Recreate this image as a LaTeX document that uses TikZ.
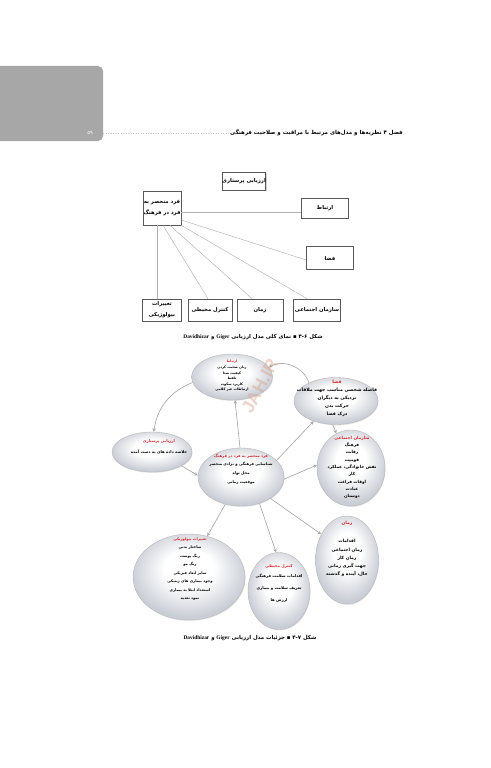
\documentclass[tikz,border=0pt]{standalone}
\usepackage{fontspec}
\usetikzlibrary{shapes.geometric,shadows}
\TeXXeTstate=1
\newfontfamily\farsi[Script=Arabic]{DejaVu Sans}
\newfontfamily\latinbf{Liberation Serif}
\newfontfamily\stampfont{Liberation Sans}
\newcommand{\fa}[1]{{\farsi\beginR #1\endR}}
\newcommand{\redhd}[1]{\textcolor{titlered}{\fa{#1}}}
\definecolor{tabgray}{HTML}{A7A7A7}
\definecolor{linkgray}{HTML}{B2B2B2}
\definecolor{arrgray}{HTML}{A3A3A3}
\definecolor{titlered}{HTML}{D9262E}
\definecolor{bubblelow}{HTML}{C9CDD5}
\definecolor{stamp}{HTML}{D8A48C}
\pgfdeclareradialshading{bubbleshade}{\pgfpoint{0bp}{6bp}}{color(0bp)=(white); color(11bp)=(white); color(26bp)=(bubblelow); color(50bp)=(bubblelow)}

\begin{document}
\begin{tikzpicture}[x=1pt, y=-1pt]
    % Define styles
    \tikzset{
        tab/.style = {rectangle, rounded corners=5pt, fill=tabgray, inner sep=0pt},
        box/.style = {rectangle, draw=black!65, line width=0.7pt, fill=white, inner sep=0pt, align=center,
                      font=\bfseries\fontsize{5.3}{11}\selectfont,
                      drop shadow={shadow xshift=0.7pt, shadow yshift=-0.7pt, opacity=0.35}},
        link/.style = {draw=linkgray, line width=0.45pt},
        bubble/.style = {ellipse, draw=black!28, line width=0.4pt, inner sep=0pt, shading=bubbleshade,
                         drop shadow={shadow xshift=0.6pt, shadow yshift=-0.9pt, opacity=0.2}},
        btext/.style = {align=center, inner sep=0pt},
        arr/.style = {draw=arrgray, line width=0.6pt, ->, >=stealth},
        caption/.style = {inner sep=0pt, font=\bfseries\fontsize{5.4}{6}\selectfont},
    }

    \fill[white] (0,0) rectangle (490,768);
    \useasboundingbox (0,0) rectangle (490,768);

    % Page header
    \node[tab, minimum width=110pt, minimum height=75pt] (tab) at (48,103.5) {};
    \node[inner sep=0pt, text=white, font=\fontsize{5}{6}\selectfont] (pageNo) at (90,133) {\farsi ۵۹};
    \node[inner sep=0pt, anchor=east, font=\bfseries\fontsize{5.5}{6}\selectfont] (head) at (403,133)
        {\fa{فصل ۴ نظریه‌ها و مدل‌های مرتبط با مراقبت و صلاحیت فرهنگی}};
    \draw[gray!45, dotted, line width=0.5pt] (tab.east |- head) -- (head.west);

    % Figure 4-6: boxes
    \node[box, minimum width=42pt, minimum height=18pt] (tNurse) at (244,181) {\fa{ارزیابی پرستاری}};
    \node[box, minimum width=38pt, minimum height=34pt] (tFard) at (162,208) {\fa{فرد منحصر به}\\ \fa{فرد در فرهنگ}};
    \node[box, minimum width=47pt, minimum height=20pt] (tErtebat) at (325,208) {\fa{ارتباط}};
    \node[box, minimum width=47pt, minimum height=23pt] (tFazaa) at (330,258) {\fa{فضا}};
    \node[box, minimum width=39pt, minimum height=22pt] (tTagh) at (162,310) {\fa{تغییرات}\\ \fa{بیولوژیکی}};
    \node[box, minimum width=44pt, minimum height=22pt] (tKont) at (210,310) {\fa{کنترل محیطی}};
    \node[box, minimum width=46pt, minimum height=22pt] (tZaman) at (260,310) {\fa{زمان}};
    \node[box, minimum width=47pt, minimum height=22pt] (tSaz) at (317,310) {\fa{سازمان اجتماعی}};

    % Figure 4-6: links
    \draw[link] ([yshift=-4pt]tFard.east) -- ([yshift=-4pt]tErtebat.west);
    \draw[link] ([yshift=-12pt]tFard.east) -- ([yshift=-2pt]tFazaa.west);
    \draw[link] (tFard.south east) -- ([xshift=-10pt]tSaz.north);
    \draw[link] ([xshift=8pt]tFard.south) -- ([xshift=-8pt]tZaman.north);
    \draw[link] ([xshift=1pt]tFard.south) -- ([xshift=-2pt]tKont.north);
    \draw[link] ([xshift=-5pt]tFard.south) -- ([xshift=-5pt]tTagh.north);

    \node[caption] (capA) at (253,337)
        {\fa{شکل \beginL۴-۶\endL{} ▪ نمای کلی مدل ارزیابی \beginL{\latinbf Giger}\endL{} و \beginL{\latinbf Davidhizar}\endL}};

    % Figure 4-7: bubbles
    \node[bubble, minimum width=81pt, minimum height=46pt] (bErtebat) at (232,377) {};
    \node[bubble, minimum width=84pt, minimum height=47pt] (bFazaa) at (336,401) {};
    \node[bubble, minimum width=68pt, minimum height=76pt] (bSaz) at (351,468) {};
    \node[bubble, minimum width=80pt, minimum height=40pt] (bNurse) at (152,452) {};
    \node[bubble, minimum width=86pt, minimum height=58pt] (bFard) at (241,477) {};
    \node[bubble, minimum width=63pt, minimum height=88pt] (bZaman) at (347,560) {};
    \node[bubble, minimum width=62pt, minimum height=77pt] (bKont) at (279,591) {};
    \node[bubble, minimum width=112pt, minimum height=86pt] (bTagh) at (189,577) {};

    % Figure 4-7: bubble texts
    \node[btext, font=\bfseries\fontsize{3.4}{5.6}\selectfont] (bErtebatT) at (232,376)
        {\redhd{ارتباط}\\ \fa{زبان صحبت کردن}\\ \fa{کیفیت صدا}\\ \fa{تلفظ}\\ \fa{کاربرد سکوت}\\ \fa{ارتباطات غیر کلامی}};
    \node[btext, font=\bfseries\fontsize{4.6}{8}\selectfont] (bFazaaT) at (337,398)
        {\redhd{فضا}\\ \fa{فاصله شخصی مناسب جهت ملاقات}\\ \fa{نزدیکی به دیگران}\\ \fa{حرکت بدن}\\ \fa{درک فضا}};
    \node[btext, font=\bfseries\fontsize{4.2}{7.3}\selectfont] (bSazT) at (352,467.5)
        {\redhd{سازمان اجتماعی}\\ \fa{فرهنگ}\\ \fa{رقابت}\\ \fa{قومیت}\\ \fa{نقش خانوادگی، عملکرد}\\ \fa{کار}\\ \fa{اوقات فراغت}\\ \fa{عبادت}\\ \fa{دوستان}};
    \node[btext, font=\bfseries\fontsize{3.9}{11}\selectfont] (bNurseT) at (159,447)
        {\redhd{ارزیابی پرستاری}\\ \fa{خلاصه داده های به دست آمده}};
    \node[btext, font=\bfseries\fontsize{3.8}{9}\selectfont] (bFardT) at (241,469)
        {\redhd{فرد منحصر به فرد در فرهنگ}\\[-1pt] \fa{شناسایی فرهنگی و نژادی منحصر}\\ \fa{محل تولد}\\ \fa{موقعیت زمانی}};
    \node[btext, font=\bfseries\fontsize{4.4}{8.2}\selectfont] (bZamanT) at (347,549)
        {\redhd{زمان}\\[10pt] \fa{اقدامات}\\ \fa{زمان اجتماعی}\\ \fa{زمان کار}\\ \fa{جهت گیری زمانی}\\ \fa{حال، آینده و گذشته}};
    \node[btext, font=\bfseries\fontsize{3.9}{12}\selectfont] (bKontT) at (279,583)
        {\redhd{کنترل محیطی}\\[-2pt] \fa{اقدامات سلامت فرهنگی}\\ \fa{تعریف سلامت و بیماری}\\ \fa{ارزش ها}};
    \node[btext, font=\bfseries\fontsize{3.7}{8.5}\selectfont] (bTaghT) at (190,569)
        {\redhd{تغییرات بیولوژیکی}\\ \fa{ساختار بدنی}\\ \fa{رنگ پوست}\\ \fa{رنگ مو}\\ \fa{سایر ابعاد فیزیکی}\\ \fa{وجود بیماری های ژنتیکی}\\ \fa{استعداد ابتلا به بیماری}\\ \fa{نمود تغذیه}};

    % Figure 4-7: arrows
    \draw[arr] (bErtebat.188) to[bend right=30] (bNurse.85);
    \draw[arr] (bFazaa.146) to[bend right=50] (bErtebat.15);
    \draw[arr] ([xshift=-1pt]bFard.north) -- ([xshift=3pt]bErtebat.south);
    \draw[arr] (bFard.25) -- (bFazaa.222);
    \draw[arr] (bFazaa.262) -- (bSaz.113);
    \draw[arr] (bFard.-3) -- (bSaz.175);
    \draw[arr] (bFard.-36) -- (bZaman.135);
    \draw[arr] (bNurse.-25) -- (bFard.178);
    \draw[arr] (bFard.-55) -- ([xshift=-3pt]bKont.north);
    \draw[arr] (bFard.-120) -- (bTagh.66);

    % Watermark
    \node[rotate=62, text=stamp, opacity=0.45, font=\stampfont\bfseries\fontsize{18}{18}\selectfont] (stampMark) at (260,386) {JAH.IR};

    \node[caption] (capB) at (250,638)
        {\fa{شکل \beginL۴-۷\endL{} ▪ جزئیات مدل ارزیابی \beginL{\latinbf Giger}\endL{} و \beginL{\latinbf Davidhizar}\endL}};
\end{tikzpicture}
\end{document}
